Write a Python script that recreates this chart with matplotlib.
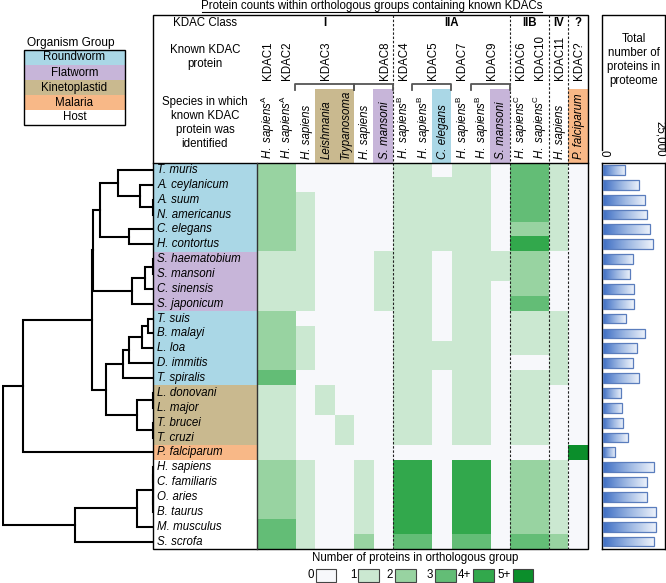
"""
KDAC orthologous group counts: dendrogram + heatmap + proteome size bars
Output: out.png
"""

import numpy as np
import matplotlib.pyplot as plt
import matplotlib.transforms as mtransforms
from matplotlib.colors import ListedColormap, BoundaryNorm, LinearSegmentedColormap
from matplotlib.patches import Rectangle

plt.rcParams["font.family"] = ["Liberation Sans", "DejaVu Sans"]
plt.rcParams["mathtext.fontset"] = "custom"
plt.rcParams["mathtext.it"] = "Liberation Sans:italic"
plt.rcParams["mathtext.rm"] = "Liberation Sans"
plt.rcParams["font.size"] = 8.3

# ---------------- data ----------------
species = ["T. muris", "A. ceylanicum", "A. suum", "N. americanus", "C. elegans",
           "H. contortus", "S. haematobium", "S. mansoni", "C. sinensis", "S. japonicum",
           "T. suis", "B. malayi", "L. loa", "D. immitis", "T. spiralis",
           "L. donovani", "L. major", "T. brucei", "T. cruzi", "P. falciparum",
           "H. sapiens", "C. familiaris", "O. aries", "B. taurus", "M. musculus", "S. scrofa"]

group = (["Roundworm"] * 6 + ["Flatworm"] * 4 + ["Roundworm"] * 5
         + ["Kinetoplastid"] * 4 + ["Malaria"] + ["Host"] * 6)

# total number of proteins in proteome
proteome_size = [9200, 15100, 17600, 18500, 19600, 20800, 12600, 11400, 13000, 12900,
                 9500, 17600, 14300, 12400, 15100, 7600, 8000, 8500, 10300, 5100,
                 21400, 18500, 18500, 22200, 22100, 21100]

group_names = ["Roundworm", "Flatworm", "Kinetoplastid", "Malaria", "Host"]
group_colors = ["#aad7e6", "#c7b5d9", "#c9b98f", "#f8b887", "#ffffff"]

kdac_class = ["I", "IIA", "IIB", "IV", "?"]
class_edges = [0, 7, 13, 15, 16, 17]

known_kdac = ["KDAC1", "KDAC2", "KDAC3", "KDAC8", "KDAC4", "KDAC5",
              "KDAC7", "KDAC9", "KDAC6", "KDAC10", "KDAC11", "KDAC?"]
known_kdac_pos = [0.5, 1.5, 3.5, 6.5, 7.5, 9.0, 10.5, 12.0, 13.5, 14.5, 15.5, 16.5]
brackets = [(2, 5), (5, 7), (8, 10), (11, 13)]

source_species = [r"$\mathit{H.\ sapiens}^{\mathrm{A}}$", r"$\mathit{H.\ sapiens}^{\mathrm{A}}$",
                  "H. sapiens", "Leishmania", "Trypanosoma", "H. sapiens", "S. mansoni",
                  r"$\mathit{H.\ sapiens}^{\mathrm{B}}$", r"$\mathit{H.\ sapiens}^{\mathrm{B}}$",
                  "C. elegans",
                  r"$\mathit{H.\ sapiens}^{\mathrm{B}}$", r"$\mathit{H.\ sapiens}^{\mathrm{B}}$",
                  "S. mansoni",
                  r"$\mathit{H.\ sapiens}^{\mathrm{C}}$", r"$\mathit{H.\ sapiens}^{\mathrm{C}}$",
                  "H. sapiens", "P. falciparum"]
source_group = ["Host", "Host", "Host", "Kinetoplastid", "Kinetoplastid", "Host", "Flatworm",
                "Host", "Host", "Roundworm", "Host", "Host", "Flatworm",
                "Host", "Host", "Host", "Malaria"]

# protein counts per orthologous group (4 = "4+", 5 = "5+")
counts = [
    [2, 2, 0, 0, 0, 0, 0, 1, 1, 0, 1, 1, 0, 3, 3, 1, 0],  # T. muris
    [2, 2, 0, 0, 0, 0, 0, 1, 1, 1, 1, 1, 0, 3, 3, 1, 0],  # A. ceylanicum
    [2, 2, 1, 0, 0, 0, 0, 1, 1, 1, 1, 1, 0, 3, 3, 1, 0],  # A. suum
    [2, 2, 1, 0, 0, 0, 0, 1, 1, 1, 1, 1, 0, 3, 3, 1, 0],  # N. americanus
    [2, 2, 1, 0, 0, 0, 0, 1, 1, 1, 1, 1, 0, 2, 2, 1, 0],  # C. elegans
    [2, 2, 1, 0, 0, 0, 0, 1, 1, 1, 1, 1, 0, 4, 4, 1, 0],  # H. contortus
    [1, 1, 1, 0, 0, 0, 1, 1, 1, 0, 1, 1, 1, 2, 2, 0, 0],  # S. haematobium
    [1, 1, 1, 0, 0, 0, 1, 1, 1, 0, 1, 1, 1, 2, 2, 0, 0],  # S. mansoni
    [1, 1, 1, 0, 0, 0, 1, 1, 1, 0, 1, 1, 0, 2, 2, 0, 0],  # C. sinensis
    [1, 1, 1, 0, 0, 0, 1, 1, 1, 0, 1, 1, 0, 3, 3, 0, 0],  # S. japonicum
    [2, 2, 0, 0, 0, 0, 0, 1, 1, 0, 1, 1, 0, 1, 1, 1, 0],  # T. suis
    [2, 2, 1, 0, 0, 0, 0, 1, 1, 0, 1, 1, 0, 1, 1, 1, 0],  # B. malayi
    [2, 2, 1, 0, 0, 0, 0, 1, 1, 1, 1, 1, 0, 1, 1, 1, 0],  # L. loa
    [2, 2, 1, 0, 0, 0, 0, 1, 1, 1, 1, 1, 0, 0, 0, 1, 0],  # D. immitis
    [3, 3, 0, 0, 0, 0, 0, 1, 1, 0, 1, 1, 0, 1, 1, 1, 0],  # T. spiralis
    [1, 1, 0, 1, 0, 0, 0, 1, 1, 0, 1, 1, 0, 1, 1, 0, 0],  # L. donovani
    [1, 1, 0, 1, 0, 0, 0, 1, 1, 0, 1, 1, 0, 1, 1, 0, 0],  # L. major
    [1, 1, 0, 0, 1, 0, 0, 1, 1, 0, 1, 1, 0, 1, 1, 0, 0],  # T. brucei
    [1, 1, 0, 0, 1, 0, 0, 1, 1, 0, 1, 1, 0, 1, 1, 0, 0],  # T. cruzi
    [1, 1, 0, 0, 0, 0, 0, 0, 0, 0, 0, 0, 0, 0, 0, 0, 5],  # P. falciparum
    [2, 2, 1, 0, 0, 1, 0, 4, 4, 0, 4, 4, 0, 2, 2, 1, 0],  # H. sapiens
    [2, 2, 1, 0, 0, 1, 0, 4, 4, 0, 4, 4, 0, 2, 2, 1, 0],  # C. familiaris
    [2, 2, 1, 0, 0, 1, 0, 4, 4, 0, 4, 4, 0, 2, 2, 1, 0],  # O. aries
    [2, 2, 1, 0, 0, 1, 0, 4, 4, 0, 4, 4, 0, 2, 2, 1, 0],  # B. taurus
    [3, 3, 1, 0, 0, 1, 0, 4, 4, 0, 4, 4, 0, 2, 2, 1, 0],  # M. musculus
    [3, 3, 1, 0, 0, 2, 0, 3, 3, 0, 3, 3, 0, 3, 3, 2, 0],  # S. scrofa
]

count_levels = ["0", "1", "2", "3", "4+", "5+"]
count_colors = ["#f7f8fb", "#cbe8d1", "#98d3a1", "#63bd76", "#32a84c", "#0b8e2b"]

# dendrogram merges: (child a, child b, distance); leaves are 0..25, new nodes from 26
merges = [
    (2, 3, 0.5),       # 26
    (1, 26, 13),       # 27
    (0, 27, 35),       # 28
    (4, 5, 23.7),      # 29
    (28, 29, 53),      # 30
    (6, 7, 0.5),       # 31
    (31, 8, 8),        # 32
    (32, 9, 21.3),     # 33
    (30, 33, 60),      # 34
    (10, 11, 5),       # 35
    (35, 12, 11.3),    # 36
    (36, 13, 23.7),    # 37
    (37, 14, 30.3),    # 38
    (15, 16, 0.5),     # 39
    (17, 18, 0.5),     # 40
    (39, 40, 16.3),    # 41
    (38, 41, 47),      # 42
    (34, 42, 61.3),    # 43
    (43, 19, 130.3),   # 44
    (20, 21, 0.5),     # 45
    (22, 23, 0.5),     # 46
    (45, 46, 0.5),     # 47
    (47, 24, 16.3),    # 48
    (48, 25, 78),      # 49
    (44, 49, 150.3),   # 50
]

# ---------------- figure ----------------
W, H = 666, 583
fig = plt.figure(figsize=(W / 100, H / 100), dpi=100)


def px_axes(x0, y0, x1, y1):
    # axes placed in pixel coordinates measured from the top-left corner
    return fig.add_axes([x0 / W, 1 - y1 / H, (x1 - x0) / W, (y1 - y0) / H])


HEAT_TOP, HEAT_BOT = 162.5, 549
n_rows, n_cols = len(species), len(counts[0])
gcolor = dict(zip(group_names, group_colors))

# heatmap
ax_heat = px_axes(256.5, HEAT_TOP, 587.5, HEAT_BOT)
cmap = ListedColormap(count_colors)
norm = BoundaryNorm(np.arange(-0.5, 6.5, 1), cmap.N)
ax_heat.imshow(np.array(counts), cmap=cmap, norm=norm, aspect="auto",
               extent=(0, n_cols, n_rows, 0), interpolation="nearest")
ax_heat.set_xlim(0, n_cols)
ax_heat.set_ylim(n_rows, 0)
ax_heat.axis("off")

# species labels
ax_lab = px_axes(153, HEAT_TOP, 256.5, HEAT_BOT)
ypos = np.arange(n_rows) + 0.5
ax_lab.barh(ypos, 1, height=1, left=0, color=[gcolor[g] for g in group])
for y, name in zip(ypos, species):
    ax_lab.text(0.04, y, name, style="italic", va="center", ha="left")
ax_lab.set_xlim(0, 1)
ax_lab.set_ylim(n_rows, 0)
ax_lab.axis("off")

# dendrogram
ax_den = px_axes(2, HEAT_TOP, 153, HEAT_BOT)
pos = {i: (i + 0.5, 0.0) for i in range(n_rows)}
for k, (a, b, h) in enumerate(merges):
    ya, ha = pos[a]
    yb, hb = pos[b]
    ax_den.plot([ha, h, h, hb], [ya, ya, yb, yb], color="black", lw=1.5,
                solid_joinstyle="miter")
    pos[n_rows + k] = ((ya + yb) / 2, h)
ax_den.set_xlim(151, 0)
ax_den.set_ylim(n_rows, 0)
ax_den.axis("off")

# proteome size bars with left-to-right gradient
ax_bar = px_axes(602, HEAT_TOP, 665, HEAT_BOT)
grad = LinearSegmentedColormap.from_list("grad", ["#3f6fc4", "#9bb6e2", "#eef3fb"])
bars = ax_bar.barh(ypos, proteome_size, height=0.66, left=0, color="none",
                   edgecolor="#5a7dbd", linewidth=0.9, zorder=3)
for rect in bars:
    x0, y0 = rect.get_x(), rect.get_y()
    im = ax_bar.imshow(np.linspace(0, 1, 64).reshape(1, -1), cmap=grad, aspect="auto",
                       extent=(x0, x0 + rect.get_width(), y0 + rect.get_height(), y0),
                       zorder=2)
    im.set_clip_path(rect)
ax_bar.set_xlim(-417, 25833)
ax_bar.set_ylim(n_rows, 0)
ax_bar.set_yticks([])
ax_bar.xaxis.tick_top()
ax_bar.set_xticks([0, 25000])
ax_bar.set_xticklabels(["0", "25,000"])
ax_bar.tick_params(axis="x", length=0, pad=4, labelrotation=-90, labelsize=8.3)
# keep the right-hand tick label inside the picture
shift = mtransforms.ScaledTranslation(-3 / 100, 0, fig.dpi_scale_trans)
last_label = ax_bar.get_xticklabels()[-1]
last_label.set_transform(last_label.get_transform() + shift)
for s in ax_bar.spines.values():
    s.set_linewidth(1.0)

# overlay in pixel coordinates for the header, boxes and legends
ax_fig = fig.add_axes([0, 0, 1, 1])
ax_fig.set_xlim(0, W)
ax_fig.set_ylim(H, 0)
ax_fig.axis("off")
ax_fig.patch.set_alpha(0)
blend = mtransforms.blended_transform_factory(ax_heat.transData, ax_fig.transData)

# title
ax_fig.text(372, 6.5, "Protein counts within orthologous groups containing known KDACs",
            ha="center", va="center")
ax_fig.plot([202, 542], [11.8, 11.8], color="black", lw=0.8)

# header row labels
ax_fig.text(205, 23, "KDAC Class", ha="center", va="center")
ax_fig.text(205, 57, "Known KDAC\nprotein", ha="center", va="center", linespacing=1.25)
ax_fig.text(205, 123, "Species in which\nknown KDAC\nprotein was\nidentified",
            ha="center", va="center", linespacing=1.25)

# class labels and dashed separators
for i, cls in enumerate(kdac_class):
    c = (class_edges[i] + class_edges[i + 1]) / 2
    ax_fig.text(c, 23, cls, transform=blend, ha="center", va="center", fontweight="bold")
for e in class_edges[1:-1]:
    ax_fig.plot([e, e], [15, HEAT_BOT], transform=blend, color="#222222", lw=0.8,
                ls=(0, (2.2, 1.6)))

# known KDAC names and brackets
for name, c in zip(known_kdac, known_kdac_pos):
    ax_fig.text(c + 0.08, 80, name, transform=blend, rotation=90, ha="center", va="bottom")
for a, b in brackets:
    ax_fig.plot([a, a, b, b], [90, 84.3, 84.3, 90], transform=blend, color="#555555", lw=1.3)

# species in which the KDAC was identified
for c, (name, g) in enumerate(zip(source_species, source_group)):
    if g != "Host":
        ax_fig.add_patch(Rectangle((c, 89), 1, HEAT_TOP - 89, transform=blend,
                                   facecolor=gcolor[g], edgecolor="none", zorder=0))
    style = "normal" if name.startswith("$") else "italic"
    ax_fig.text(c + 0.58, 159, name, transform=blend, rotation=90, ha="center",
                va="bottom", style=style)

# outer frames
ax_fig.add_patch(Rectangle((153, 15), 587.5 - 153, HEAT_BOT - 15, fill=False,
                           edgecolor="black", lw=1.0))
ax_fig.plot([153, 587.5], [HEAT_TOP, HEAT_TOP], color="black", lw=1.0)
ax_fig.plot([256.5, 256.5], [HEAT_TOP, HEAT_BOT], color="#333333", lw=1.0)

# bar chart header box
ax_fig.plot([602, 602, 665, 665], [150, 15, 15, 150], color="black", lw=1.0)
ax_fig.text(633.5, 60, "Total\nnumber of\nproteins in\nproteome", ha="center",
            va="center", linespacing=1.25)

# organism group legend
ax_fig.text(71, 43, "Organism Group", ha="center", va="center", fontsize=8.6)
for i, (g, col) in enumerate(zip(group_names, group_colors)):
    ax_fig.add_patch(Rectangle((24, 50 + 15 * i), 101, 15, facecolor=col, edgecolor="none"))
    ax_fig.text(74.5, 57.5 + 15 * i, g, ha="center", va="center")
ax_fig.add_patch(Rectangle((24, 50), 101, 75, fill=False, edgecolor="black", lw=1.0))

# count legend
ax_fig.text(415.5, 558, "Number of proteins in orthologous group", ha="center", va="center")
legend_x = [315.7, 358.3, 395, 435, 473.3, 512.7]
for x, lab, col in zip(legend_x, count_levels, count_colors):
    ax_fig.add_patch(Rectangle((x, 568.5), 20.5, 13, facecolor=col, edgecolor="#444444",
                               lw=0.8))
    ax_fig.text(x - 2, 575, lab, ha="right", va="center")

fig.savefig("out.png", dpi=100)
